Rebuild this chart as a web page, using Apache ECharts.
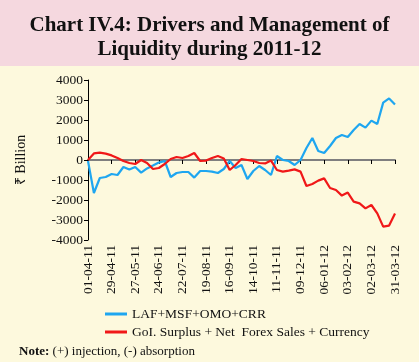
<!DOCTYPE html>
<html>
<head>
<meta charset="utf-8">
<script src="https://cdn.jsdelivr.net/npm/echarts@6/dist/echarts.min.js"></script>
<style>
html,body{margin:0;padding:0;background:#fdf9dd;}
#chart{width:419px;height:362px;}
</style>
</head>
<body>
<div id="chart"></div>
<script>
var categories = ['01-04-11','08-04-11','15-04-11','22-04-11','29-04-11','06-05-11','13-05-11','20-05-11','27-05-11','03-06-11','10-06-11','17-06-11','24-06-11','01-07-11','08-07-11','15-07-11','22-07-11','29-07-11','05-08-11','12-08-11','19-08-11','26-08-11','02-09-11','09-09-11','16-09-11','23-09-11','30-09-11','07-10-11','14-10-11','21-10-11','28-10-11','04-11-11','11-11-11','18-11-11','25-11-11','02-12-11','09-12-11','16-12-11','23-12-11','30-12-11','06-01-12','13-01-12','20-01-12','27-01-12','03-02-12','10-02-12','17-02-12','24-02-12','02-03-12','09-03-12','16-03-12','23-03-12','31-03-12'];

var lafMsfOmoCrr = [-50,-1650,-900,-850,-700,-750,-350,-480,-350,-630,-420,-280,-130,-50,-850,-650,-600,-600,-880,-550,-550,-580,-650,-450,-50,-400,-250,-950,-550,-300,-500,-750,200,0,-50,-250,0,600,1100,450,350,700,1100,1250,1150,1500,1800,1620,1970,1800,2870,3080,2780];

var goiSurplus = [0,330,370,320,230,100,-50,-150,-200,0,-150,-450,-400,-200,50,150,100,200,350,-50,-30,100,200,80,-500,-250,50,0,-50,-150,-170,-30,-500,-580,-530,-470,-580,-1300,-1200,-1030,-920,-1400,-1500,-1780,-1630,-2080,-2170,-2420,-2250,-2670,-3330,-3280,-2680];

var seriesNames = ['LAF+MSF+OMO+CRR', 'GoI. Surplus + Net  Forex Sales + Currency'];

var serif = '"Liberation Serif", "Times New Roman", serif';

var chart = echarts.init(document.getElementById('chart'));
chart.setOption({
  backgroundColor: '#fdf9dd',
  animation: false,
  graphic: [{
    type: 'rect', left: 0, top: 0, z: -10,
    shape: {width: 419, height: 66},
    style: {fill: '#f5d8df'}
  }],
  title: [{
    text: 'Chart IV.4: Drivers and Management of\nLiquidity during 2011-12',
    left: 'center', top: 9,
    textStyle: {fontFamily: serif, fontWeight: 'bold', fontSize: 21, lineHeight: 24, color: '#111'}
  }, {
    text: '{b|Note:} (+) injection, (-) absorption',
    left: 14, top: 340,
    textStyle: {
      fontFamily: serif, fontWeight: 'normal', fontSize: 13, color: '#111',
      rich: {b: {fontFamily: serif, fontWeight: 'bold', fontSize: 13, color: '#111'}}
    }
  }],
  legend: {
    orient: 'vertical', left: 100, top: 302,
    itemWidth: 22, itemHeight: 3, itemGap: 4,
    icon: 'rect',
    textStyle: {fontFamily: serif, fontSize: 13.5, color: '#111'},
    data: seriesNames
  },
  grid: {left: 88, right: 24, top: 80, bottom: 122, containLabel: false},
  xAxis: [{
    type: 'category', data: categories, boundaryGap: false,
    axisLine: {show: false, onZero: false},
    axisTick: {show: false},
    axisLabel: {interval: 3, rotate: 90, margin: 5, fontFamily: serif, fontSize: 13.5, color: '#111'},
    splitLine: {show: false}
  }, {
    type: 'category', data: categories, boundaryGap: false, position: 'bottom',
    axisLine: {show: true, onZero: true, lineStyle: {color: '#7f7f7f', width: 2}},
    axisTick: {show: true, interval: 3, length: 4, lineStyle: {color: '#000', width: 1}},
    axisLabel: {show: false},
    splitLine: {show: false}
  }],
  yAxis: {
    type: 'value', min: -4000, max: 4000, interval: 1000,
    name: '₹ Billion', nameLocation: 'middle', nameGap: 60, nameRotate: 90,
    nameTextStyle: {fontFamily: serif, fontSize: 14, color: '#111'},
    axisLine: {show: true, lineStyle: {color: '#000', width: 1}},
    axisTick: {show: true, length: 4, lineStyle: {color: '#000'}},
    axisLabel: {fontFamily: serif, fontSize: 13.5, color: '#111', margin: 5,
      formatter: function (v) { return String(v); }},
    splitLine: {show: false}
  },
  series: [{
    name: seriesNames[0], type: 'line', data: lafMsfOmoCrr, xAxisIndex: 0,
    symbol: 'none', color: '#1ea6f0',
    lineStyle: {width: 2.2, color: '#1ea6f0'}
  }, {
    name: seriesNames[1], type: 'line', data: goiSurplus, xAxisIndex: 0,
    symbol: 'none', color: '#f01818',
    lineStyle: {width: 2.2, color: '#f01818'}
  }]
});
</script>
</body>
</html>
